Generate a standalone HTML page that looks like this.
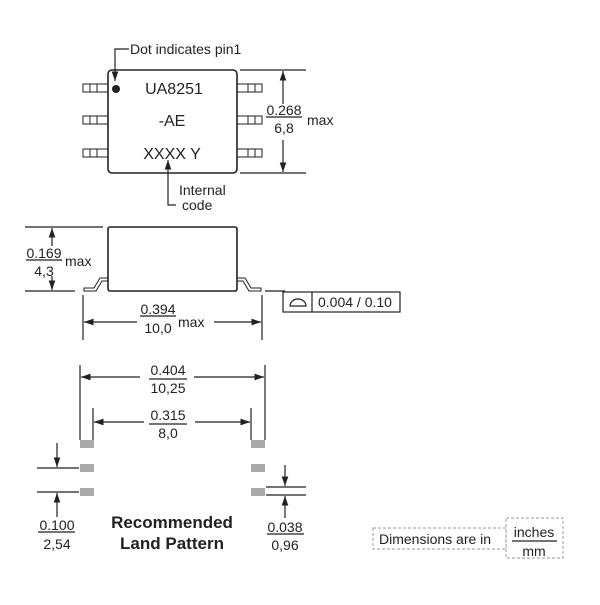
<!DOCTYPE html>
<html><head><style>body{margin:0;background:#fff}</style></head><body>
<svg width="600" height="600" viewBox="0 0 600 600" font-family="Liberation Sans, sans-serif" fill="#222">
<defs><marker id="a" viewBox="0 0 10 10" refX="10" refY="5" markerWidth="8" markerHeight="8" orient="auto-start-reverse"><path d="M0,1.5 L10,5 L0,8.5 z" fill="#222"/></marker></defs>
<g stroke="#222" stroke-width="1.2" fill="none">
<rect x="108" y="70" width="129" height="103" rx="4" stroke-width="1.6"/>
<g stroke-width="1">
<rect x="83" y="84" width="25" height="8"/><line x1="90" y1="84" x2="90" y2="92"/><line x1="97" y1="84" x2="97" y2="92"/>
<rect x="83" y="116" width="25" height="8"/><line x1="90" y1="116" x2="90" y2="124"/><line x1="97" y1="116" x2="97" y2="124"/>
<rect x="83" y="149" width="25" height="8"/><line x1="90" y1="149" x2="90" y2="157"/><line x1="97" y1="149" x2="97" y2="157"/>
<rect x="237" y="84" width="25" height="8"/><line x1="248" y1="84" x2="248" y2="92"/><line x1="255" y1="84" x2="255" y2="92"/>
<rect x="237" y="116" width="25" height="8"/><line x1="248" y1="116" x2="248" y2="124"/><line x1="255" y1="116" x2="255" y2="124"/>
<rect x="237" y="149" width="25" height="8"/><line x1="248" y1="149" x2="248" y2="157"/><line x1="255" y1="149" x2="255" y2="157"/>
</g>
<polyline points="129,49 115,49 115,81" marker-end="url(#a)"/>
<polyline points="176,205 168,205 168,160" marker-end="url(#a)"/>
<line x1="240" y1="70" x2="306" y2="70"/><line x1="240" y1="173" x2="306" y2="173"/>
<line x1="283" y1="104" x2="283" y2="71" marker-end="url(#a)"/><line x1="283" y1="140" x2="283" y2="172" marker-end="url(#a)"/>
<line x1="266" y1="117" x2="302" y2="117"/>
<rect x="108" y="227" width="129" height="64" rx="2" stroke-width="1.6"/>
<path d="M108,278 L100,278 L94,288 L84,288 L84,291 L96,291 L102,281 L108,281" stroke-width="1"/>
<path d="M237,278 L245,278 L251,288 L261,288 L261,291 L249,291 L243,281 L237,281" stroke-width="1"/>
<line x1="25" y1="227" x2="103" y2="227"/><line x1="25" y1="291" x2="75" y2="291"/>
<line x1="52" y1="246" x2="52" y2="228" marker-end="url(#a)"/><line x1="52" y1="276" x2="52" y2="290" marker-end="url(#a)"/>
<line x1="26" y1="260" x2="62" y2="260"/>
<line x1="83" y1="295" x2="83" y2="340"/><line x1="262" y1="295" x2="262" y2="340"/>
<line x1="137" y1="322" x2="84" y2="322" marker-end="url(#a)"/><line x1="214" y1="322" x2="261" y2="322" marker-end="url(#a)"/>
<line x1="140" y1="316" x2="176" y2="316"/>
<line x1="265" y1="291" x2="285" y2="291"/>
<rect x="283" y="292" width="117" height="20"/><line x1="312" y1="292" x2="312" y2="312"/>
<path d="M290,306 A8,7 0 0 1 306,306 Z"/>
<line x1="80" y1="365" x2="80" y2="440"/><line x1="265" y1="365" x2="265" y2="440"/>
<line x1="140" y1="377" x2="81" y2="377" marker-end="url(#a)"/><line x1="194" y1="377" x2="264" y2="377" marker-end="url(#a)"/>
<line x1="149" y1="379" x2="187" y2="379"/>
<line x1="93" y1="408" x2="93" y2="440"/><line x1="251" y1="408" x2="251" y2="440"/>
<line x1="144" y1="422" x2="94" y2="422" marker-end="url(#a)"/><line x1="195" y1="422" x2="250" y2="422" marker-end="url(#a)"/>
<line x1="149" y1="424" x2="187" y2="424"/>
<line x1="37" y1="468" x2="79" y2="468"/><line x1="37" y1="492" x2="79" y2="492"/>
<line x1="57" y1="443" x2="57" y2="467" marker-end="url(#a)"/><line x1="57" y1="517" x2="57" y2="493" marker-end="url(#a)"/>
<line x1="38" y1="532" x2="75" y2="532"/>
<line x1="266" y1="487" x2="306" y2="487"/><line x1="266" y1="495" x2="306" y2="495"/>
<line x1="285" y1="465" x2="285" y2="486" marker-end="url(#a)"/><line x1="285" y1="518" x2="285" y2="496" marker-end="url(#a)"/>
<line x1="267" y1="534" x2="304" y2="534"/>
<g stroke="#999" stroke-dasharray="3,2" stroke-width="1">
<rect x="373" y="528" width="133" height="21"/><rect x="506" y="518" width="57" height="40"/></g>
<line x1="512" y1="541" x2="557" y2="541"/>
</g>
<g fill="#aaa">
<rect x="80" y="440" width="14" height="8"/><rect x="80" y="464" width="14" height="8"/><rect x="80" y="488" width="14" height="8"/>
<rect x="251" y="440" width="14" height="8"/><rect x="251" y="464" width="14" height="8"/><rect x="251" y="488" width="14" height="8"/>
</g>
<circle cx="116" cy="89" r="4"/>
<g font-size="14">
<text x="130" y="54">Dot indicates pin1</text>
<g font-size="16" text-anchor="middle"><text x="174" y="94">UA8251</text><text x="172" y="126">-AE</text><text x="172" y="159">XXXX Y</text></g>
<text x="179" y="195">Internal</text><text x="182" y="210">code</text>
<g text-anchor="middle"><text x="284" y="115">0.268</text><text x="284" y="133">6,8</text>
<text x="44" y="258">0.169</text><text x="44" y="276">4,3</text>
<text x="158" y="314">0.394</text><text x="158" y="333">10,0</text>
<text x="168" y="375">0.404</text><text x="168" y="393">10,25</text>
<text x="168" y="420">0.315</text><text x="168" y="438">8,0</text>
<text x="57" y="530">0.100</text><text x="57" y="549">2,54</text>
<text x="285" y="532">0.038</text><text x="285" y="550">0,96</text>
<text x="534" y="537">inches</text><text x="534" y="556">mm</text></g>
<text x="307" y="125">max</text><text x="65" y="266">max</text><text x="178" y="327">max</text>
<text x="318" y="307">0.004 / 0.10</text>
<text x="379" y="544">Dimensions are in</text>
<g font-size="17" font-weight="bold" text-anchor="middle"><text x="172" y="528">Recommended</text><text x="172" y="549">Land Pattern</text></g>
</g>
</svg>
</body></html>
